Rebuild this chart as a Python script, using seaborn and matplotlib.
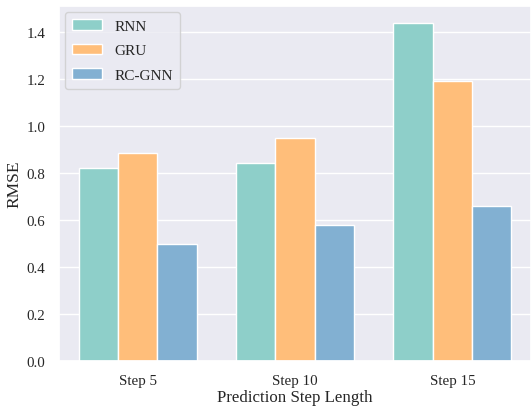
import matplotlib
matplotlib.use("Agg")
import matplotlib.pyplot as plt
import seaborn as sns
import pandas as pd

steps = ["Step 5", "Step 10", "Step 15"]
models = ["RNN", "GRU", "RC-GNN"]
rnn = [0.82, 0.843, 1.437]
gru = [0.885, 0.947, 1.19]
rcgnn = [0.497, 0.578, 0.66]
colors = ["#8ECFC9", "#FFBE7A", "#82B0D2"]

sns.set_theme(style="darkgrid")
plt.rcParams["font.family"] = ["Liberation Serif", "DejaVu Serif"]

rows = []
for name, vals in zip(models, [rnn, gru, rcgnn]):
    for s, v in zip(steps, vals):
        rows.append({"Step": s, "Model": name, "RMSE": v})
df = pd.DataFrame(rows)

fig, ax = plt.subplots(figsize=(5.31, 4.10), dpi=100)
fig.subplots_adjust(left=0.111, right=1.0, top=0.983, bottom=0.117)

sns.barplot(data=df, x="Step", y="RMSE", hue="Model", palette=colors,
            width=0.75, edgecolor="white", linewidth=1, saturation=1, ax=ax)

ax.set_xlabel("Prediction Step Length", fontsize=12.2, labelpad=1)
ax.set_ylabel("RMSE", fontsize=12.5, labelpad=3)
ax.tick_params(axis="both", labelsize=10.8)
ax.tick_params(axis="y", pad=4)
ax.set_yticks([0.0, 0.2, 0.4, 0.6, 0.8, 1.0, 1.2, 1.4])
ax.set_yticklabels([f"{t:.1f}" for t in ax.get_yticks()])
ax.legend(loc="upper left", fontsize=11, title=None,
          borderpad=0.45, labelspacing=0.72, borderaxespad=0.4)

fig.savefig("out.png", dpi=100)
